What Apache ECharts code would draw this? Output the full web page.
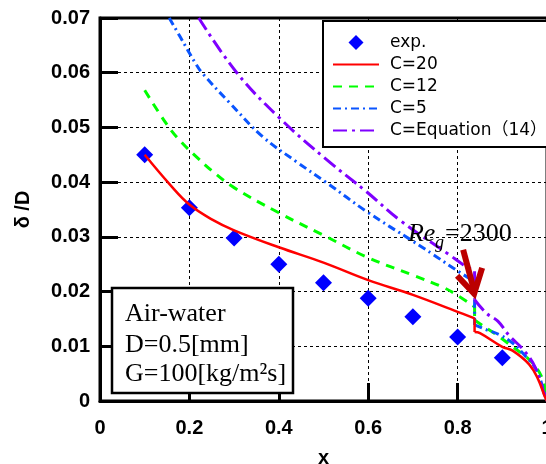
<!DOCTYPE html>
<html><head><meta charset="utf-8">
<script src="https://cdn.jsdelivr.net/npm/echarts@6/dist/echarts.min.js"></script>
<style>html,body{margin:0;padding:0;background:#fff}#c{width:546px;height:464px}</style>
</head><body><div id="c"></div>
<script>
// Experimental data
const expX = [0.1, 0.2, 0.3, 0.4, 0.5, 0.6, 0.7, 0.8, 0.9];
const expY = [0.0450, 0.0353, 0.0298, 0.0250, 0.0216, 0.0188, 0.0154, 0.0117, 0.0079];
// C=20
const c20X = [0.10, 0.156, 0.20, 0.25, 0.30, 0.40, 0.50, 0.60, 0.70, 0.80, 0.838, 0.838, 0.85, 0.90, 0.923, 0.96, 0.98, 0.995, 1.0];
const c20Y = [0.0450, 0.0396, 0.0359, 0.0332, 0.0312, 0.0281, 0.0253, 0.0221, 0.0194, 0.0163, 0.0151, 0.0126, 0.0124, 0.0099, 0.0092, 0.0067, 0.0040, 0.0008, 0.0];
// C=12
const c12X = [0.10, 0.15, 0.18, 0.22, 0.25, 0.30, 0.40, 0.50, 0.60, 0.70, 0.767, 0.80, 0.838, 0.838, 0.85, 0.887, 0.923, 0.961, 0.988, 1.0];
const c12Y = [0.0568, 0.0505, 0.0475, 0.0443, 0.0421, 0.0390, 0.0344, 0.0303, 0.0262, 0.0230, 0.0208, 0.0193, 0.0172, 0.0148, 0.0141, 0.0121, 0.0099, 0.0075, 0.0044, 0.0];
// C=5
const c5X = [0.155, 0.179, 0.216, 0.23, 0.29, 0.364, 0.44, 0.507, 0.597, 0.70, 0.745, 0.79, 0.838, 0.838, 0.865, 0.894, 0.923, 0.945, 0.976, 0.995, 1.0];
const c5Y = [0.0700, 0.0666, 0.0614, 0.0598, 0.0545, 0.0483, 0.0437, 0.0399, 0.0346, 0.0292, 0.0268, 0.0243, 0.0218, 0.0139, 0.0130, 0.0121, 0.0106, 0.0088, 0.0057, 0.0012, 0.0];
// C=Equation (14)
const ceqX = [0.221, 0.306, 0.402, 0.507, 0.597, 0.670, 0.782, 0.811, 0.838, 0.838, 0.865, 0.89, 0.915, 0.95, 0.975, 0.995, 1.0];
const ceqY = [0.0700, 0.0600, 0.0517, 0.0441, 0.0382, 0.0331, 0.0267, 0.0250, 0.0237, 0.0185, 0.0160, 0.0146, 0.0120, 0.0091, 0.0059, 0.0010, 0.0];

const seriesNames = ['exp.', 'C=20', 'C=12', 'C=5', 'C=Equation（14）'];
const xTicks = [0, 0.2, 0.4, 0.6, 0.8, 1];
const yTicks = [0, 0.01, 0.02, 0.03, 0.04, 0.05, 0.06, 0.07];

function pairs(xs, ys) { return xs.map((x, i) => [x, ys[i]]); }

const chart = echarts.init(document.getElementById('c'), null, {renderer: 'canvas'});
const tickFont = {fontFamily: '"Liberation Sans", Arial, sans-serif', fontSize: 20, fontWeight: 'bold', color: '#000'};

// Build one curve as three pieces: smooth part before the Re_g=2300 jump, the vertical jump, smooth part after
function curveSeries(name, xs, ys, lineStyle, z) {
  const pts = pairs(xs, ys);
  let j = -1;
  for (let i = 1; i < xs.length; i++) if (xs[i] === xs[i - 1]) { j = i; break; }
  const base = {name: name, type: 'line', symbol: 'none', lineStyle: lineStyle,
                itemStyle: {color: lineStyle.color}, z: z, silent: true};
  return [
    Object.assign({}, base, {data: pts.slice(0, j), smooth: 0.4}),
    Object.assign({}, base, {data: pts.slice(j - 1, j + 1), smooth: false}),
    Object.assign({}, base, {data: pts.slice(j), smooth: 0.4})
  ];
}

chart.setOption({
  animation: false,
  backgroundColor: '#fff',
  grid: {left: 100, top: 18, width: 447, height: 383, show: true, borderColor: '#000', borderWidth: 3,
         containLabel: false, outerBoundsMode: 'none'},
  xAxis: {
    type: 'value', min: xTicks[0], max: xTicks[xTicks.length - 1], interval: 0.2,
    axisLine: {lineStyle: {color: '#000', width: 3}},
    axisTick: {inside: true, length: 18, lineStyle: {color: '#000', width: 3}},
    axisLabel: Object.assign({margin: 17, hideOverlap: false, formatter: v => (v === 0 ? '0' : v === 1 ? '1' : v.toFixed(1))}, tickFont),
    splitLine: {show: true, lineStyle: {color: '#000', width: 1, type: [3, 3]}},
    name: 'x', nameLocation: 'middle', nameGap: 47,
    nameTextStyle: tickFont
  },
  yAxis: {
    type: 'value', min: yTicks[0], max: yTicks[yTicks.length - 1], interval: 0.01,
    axisLine: {lineStyle: {color: '#000', width: 3}},
    axisTick: {inside: true, length: 18, lineStyle: {color: '#000', width: 3}},
    axisLabel: Object.assign({margin: 10, formatter: v => (v === 0 ? '0' : v.toFixed(2))}, tickFont),
    splitLine: {show: true, lineStyle: {color: '#000', width: 1, type: [3, 3]}},
    name: 'δ /D', nameLocation: 'middle', nameGap: 67,
    nameTextStyle: tickFont
  },
  legend: {
    orient: 'vertical', left: 323, top: 21,
    backgroundColor: '#fff', borderColor: '#000', borderWidth: 2,
    padding: [13, 4, 8, 9],
    itemWidth: 46, itemHeight: 15, itemGap: 5,
    symbolKeepAspect: true,
    textStyle: {fontFamily: '"DejaVu Sans", "Noto Sans CJK JP", sans-serif', fontSize: 17, lineHeight: 15, color: '#000', padding: [0, 0, 0, 6]},
    data: [
      {name: seriesNames[0], icon: 'path://M10,0L20,10L10,20L0,10Z'},
      {name: seriesNames[1], itemStyle: {opacity: 0}},
      {name: seriesNames[2], itemStyle: {opacity: 0}},
      {name: seriesNames[3], itemStyle: {opacity: 0}},
      {name: seriesNames[4], itemStyle: {opacity: 0}}
    ]
  },
  series: [].concat(
    [{name: seriesNames[0], type: 'scatter', data: pairs(expX, expY), symbol: 'diamond', symbolSize: 17,
      itemStyle: {color: '#0000ff', opacity: 1}, z: 2}],
    curveSeries(seriesNames[2], c12X, c12Y, {color: '#00ff00', width: 3, type: [9, 7]}, 3),
    curveSeries(seriesNames[3], c5X, c5Y, {color: '#0a55ff', width: 3, type: [8, 4, 2, 4]}, 3),
    curveSeries(seriesNames[4], ceqX, ceqY, {color: '#7f00ff', width: 3, type: [14, 5, 3, 5]}, 3),
    curveSeries(seriesNames[1], c20X, c20Y, {color: '#ff0000', width: 2.5, type: 'solid'}, 4)
  )
});

// Annotations anchored in data space
const tip = chart.convertToPixel({gridIndex: 0}, [0.837, 0.0196]);
const reAnchor = chart.convertToPixel({gridIndex: 0}, [0.689, 0.0305]);
const serif = '"Liberation Serif", "Times New Roman", serif';
const arrowColor = '#bb0000';

chart.setOption({
  graphic: [
    {type: 'rect', z: 100, shape: {x: 112, y: 288, width: 181, height: 105},
     style: {fill: '#fff', stroke: '#000', lineWidth: 2.5}},
    {type: 'text', z: 101, style: {x: 125, y: 314, text: 'Air-water', font: '26px ' + serif, fill: '#000', verticalAlign: 'middle'}},
    {type: 'text', z: 101, style: {x: 125, y: 345, text: 'D=0.5[mm]', font: '26px ' + serif, fill: '#000', verticalAlign: 'middle'}},
    {type: 'text', z: 101, style: {x: 125, y: 374, text: 'G=100[kg/m²s]', font: '26px ' + serif, fill: '#000', verticalAlign: 'middle'}},
    {type: 'text', z: 101, style: {x: reAnchor[0], y: reAnchor[1], text: 'Re', font: 'italic 26px ' + serif, fill: '#000', verticalAlign: 'middle'}},
    {type: 'text', z: 101, style: {x: reAnchor[0] + 27, y: reAnchor[1] + 9, text: 'g', font: 'italic 18px ' + serif, fill: '#000', verticalAlign: 'middle'}},
    {type: 'text', z: 101, style: {x: reAnchor[0] + 37, y: reAnchor[1], text: '=2300', font: '26px ' + serif, fill: '#000', verticalAlign: 'middle'}},
    {type: 'polyline', z: 102, shape: {points: [[tip[0] - 11, tip[1] - 44], [tip[0], tip[1] - 3]]},
     style: {stroke: arrowColor, lineWidth: 6, fill: null}},
    {type: 'polyline', z: 102, shape: {points: [[tip[0] - 17, tip[1] - 18], [tip[0], tip[1]], [tip[0] + 8, tip[1] - 26]]},
     style: {stroke: arrowColor, lineWidth: 6, fill: null, lineJoin: 'miter'}}
  ]
});
</script>
</body></html>
